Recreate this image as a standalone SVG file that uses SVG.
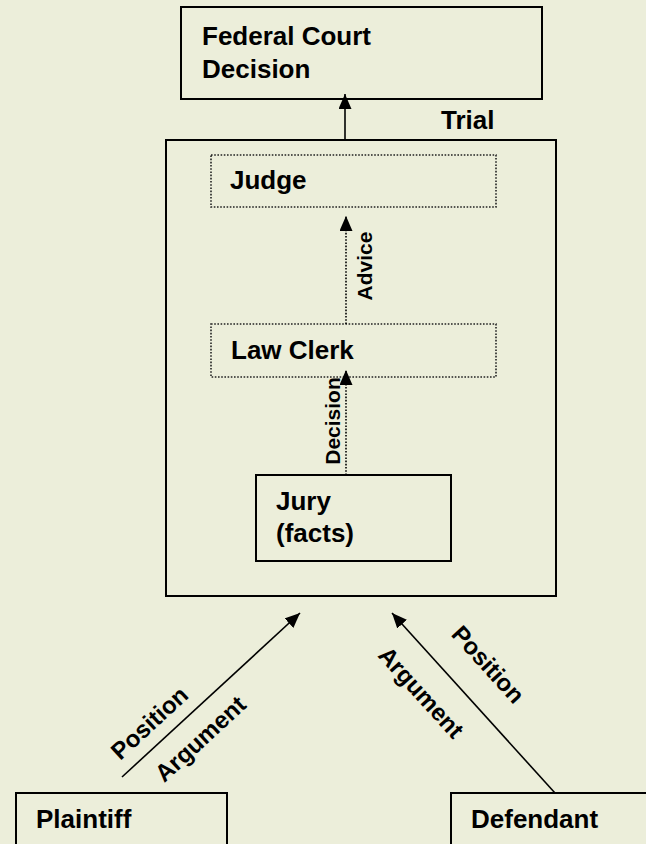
<svg xmlns="http://www.w3.org/2000/svg" width="646" height="844" viewBox="0 0 646 844">
<style>
.box{fill:none;stroke:#000;stroke-width:2}
.dot{fill:none;stroke:#222;stroke-width:1.6;stroke-dasharray:1.6 1.6}
.t{font-family:"Liberation Sans",Arial,sans-serif;font-weight:bold;font-size:26px;fill:#000}
.s{font-family:"Liberation Sans",Arial,sans-serif;font-weight:bold;font-size:21px;fill:#000}
.b{font-family:"Liberation Sans",Arial,sans-serif;font-weight:bold;font-size:24px;fill:#000}
.ln{stroke:#000;stroke-width:1.6;fill:none}
.dl{stroke:#000;stroke-width:1.6;fill:none;stroke-dasharray:1.6 1.6}
</style>
<defs>
<marker id="ah" viewBox="0 0 15 13" refX="15" refY="6.5" markerWidth="15" markerHeight="13" markerUnits="userSpaceOnUse" orient="auto">
<path d="M0,0 L15,6.5 L0,13 z" fill="#000"/>
</marker>
</defs>
<rect width="646" height="844" fill="#ECEEDA"/>
<g id="federal">
<rect class="box" x="181" y="7" width="361" height="92"/>
<text class="t" x="202" y="45">Federal Court</text>
<text class="t" x="202" y="78">Decision</text>
</g>
<g id="trial">
<rect class="box" x="166" y="140" width="390" height="456"/>
<text class="t" x="441" y="129">Trial</text>
</g>
<g id="judge">
<rect class="dot" x="211" y="155" width="285" height="52"/>
<text class="t" x="230" y="189">Judge</text>
</g>
<g id="clerk">
<rect class="dot" x="211" y="324" width="285" height="53"/>
<text class="t" x="231" y="359">Law Clerk</text>
</g>
<g id="jury">
<rect class="box" x="256" y="475" width="195" height="86"/>
<text class="t" x="276" y="510">Jury</text>
<text class="t" x="276" y="542">(facts)</text>
</g>
<g id="plaintiff">
<rect class="box" x="16" y="793" width="211" height="60"/>
<text class="t" x="36" y="828">Plaintiff</text>
</g>
<g id="defendant">
<rect class="box" x="451" y="793" width="205" height="60"/>
<text class="t" x="471" y="828">Defendant</text>
</g>
<g id="connectors">
<line class="ln" x1="345" y1="140" x2="345" y2="94" marker-end="url(#ah)"/>
<line class="dl" x1="346" y1="324" x2="346" y2="216" marker-end="url(#ah)"/>
<line class="dl" x1="346" y1="475" x2="346" y2="370" marker-end="url(#ah)"/>
<line class="ln" x1="122" y1="777" x2="300" y2="613" marker-end="url(#ah)"/>
<line class="ln" x1="555" y1="793" x2="392" y2="613" marker-end="url(#ah)"/>
<text class="s" text-anchor="middle" transform="translate(372,266) rotate(-90)">Advice</text>
<text class="s" text-anchor="middle" transform="translate(340,421) rotate(-90)">Decision</text>
<text class="b" text-anchor="middle" transform="translate(155,729) rotate(-42.6)">Position</text>
<text class="b" text-anchor="middle" transform="translate(206,745) rotate(-42.6)">Argument</text>
<text class="b" text-anchor="middle" transform="translate(482,670) rotate(47.8)">Position</text>
<text class="b" text-anchor="middle" transform="translate(415,698) rotate(47.8)">Argument</text>
</g>
</svg>
